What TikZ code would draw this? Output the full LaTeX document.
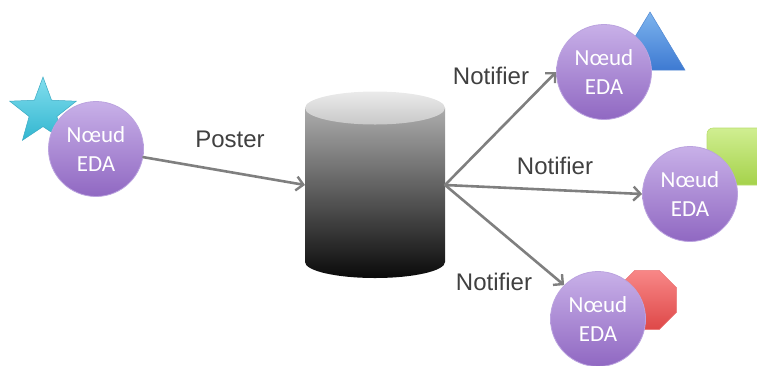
\documentclass[tikz,border=0pt]{standalone}
\usepackage{fontspec}
\setmainfont{Liberation Sans}
\newfontfamily\nodefont{Carlito}
\usetikzlibrary{shapes.geometric,arrows.meta}
\definecolor{arrowgray}{HTML}{7F7F7F}
\definecolor{labelgray}{HTML}{404040}
\definecolor{purpTop}{HTML}{C8B0E8}
\definecolor{purpBot}{HTML}{9068C2}
\definecolor{purpEdge}{HTML}{BBA3DF}
\begin{document}
\begin{tikzpicture}[x=1pt,y=-1pt,
  eda/.style={circle, minimum size=95pt, inner sep=0pt, top color=purpTop, bottom color=purpBot,
    draw=purpEdge, line width=0.8pt, text=white, align=center,
    font=\nodefont\fontsize{23}{29}\selectfont},
  arr/.style={draw=arrowgray, line width=2.6pt, line cap=round,
    -{Straight Barb[length=7pt,width=14pt,line width=2.4pt]}},
  lbl/.style={text=labelgray, font=\fontsize{24}{28}\selectfont, anchor=base, inner sep=0pt}
]
\useasboundingbox (0,0) rectangle (757,365);

% decorations behind the nodes
\node[star, star points=5, star point ratio=2.4, minimum size=70pt, inner sep=0pt,
  top color={rgb,255:red,130;green,222;blue,238}, bottom color={rgb,255:red,50;green,182;blue,208},
  draw={rgb,255:red,60;green,170;blue,195}, line width=0.5pt]
  (star) at (43,112) {};
\path[top color={rgb,255:red,125;green,180;blue,238}, bottom color={rgb,255:red,62;green,122;blue,210},
  draw={rgb,255:red,80;green,135;blue,210}, line width=0.5pt]
  (650,12) -- (685,70) -- (615,70) -- cycle;
\path[top color={rgb,255:red,208;green,238;blue,145}, bottom color={rgb,255:red,165;green,210;blue,75},
  draw={rgb,255:red,185;green,222;blue,110}, line width=0.6pt, rounded corners=6pt]
  (707,128) rectangle (785,185);
\node[regular polygon, regular polygon sides=8, minimum size=64pt, inner sep=0pt,
  top color={rgb,255:red,248;green,135;blue,135}, bottom color={rgb,255:red,222;green,72;blue,72},
  draw={rgb,255:red,235;green,120;blue,120}, line width=0.5pt] (oct) at (647,300) {};

% cylinder (database)
\path[top color={rgb,255:red,172;green,172;blue,172}, bottom color={rgb,255:red,10;green,10;blue,10}]
  (305,108) -- (305,262) arc[start angle=180, end angle=0, x radius=70, y radius=16] -- (445,108) -- cycle;
\path[top color={rgb,255:red,235;green,235;blue,235}, bottom color={rgb,255:red,200;green,200;blue,200}]
  (375,108) ellipse [x radius=70, y radius=16.5];
\coordinate (cylL) at (305,185);
\coordinate (cylR) at (445,185);

% nodes
\node[eda] (src) at (96,149) {Nœud\\EDA};
\node[eda] (top) at (604,72) {Nœud\\EDA};
\node[eda] (mid) at (690,194) {Nœud\\EDA};
\node[eda] (bot) at (598,319) {Nœud\\EDA};

% connectors
\draw[arr] (src) -- (cylL);
\draw[arr] (cylR) -- (top.west);
\draw[arr] (cylR) -- (mid.west);
\draw[arr] (cylR) -- (bot.north west);

% labels
\node[lbl] (lp) at (230,147) {Poster};
\node[lbl] (lt) at (491,84) {Notifier};
\node[lbl] (lm) at (555,174) {Notifier};
\node[lbl] (lb) at (494,290) {Notifier};
\end{tikzpicture}
\end{document}
